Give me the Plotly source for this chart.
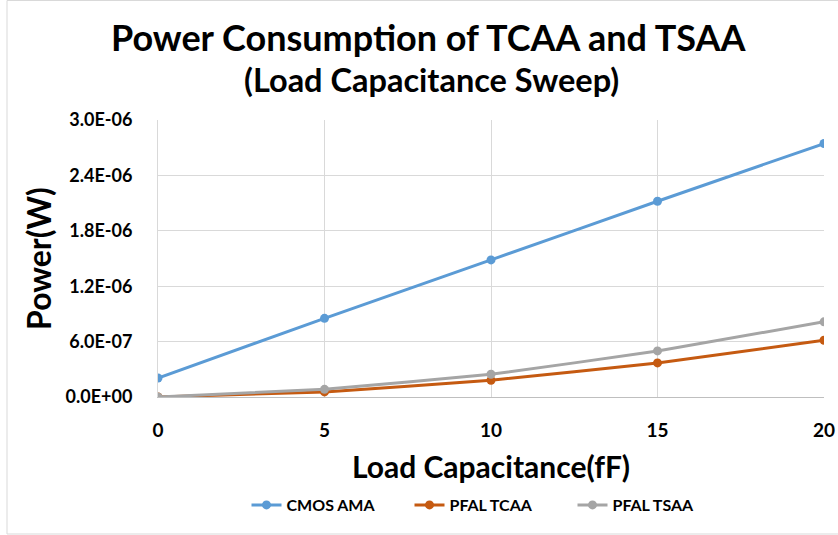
import plotly.graph_objects as go

load_cap = [0, 5, 10, 15, 20]
cmos_ama = [0.206e-6, 0.852e-6, 1.485e-6, 2.12e-6, 2.745e-6]
pfal_tcaa = [0.0, 0.055e-6, 0.182e-6, 0.369e-6, 0.615e-6]
pfal_tsaa = [0.0, 0.083e-6, 0.246e-6, 0.499e-6, 0.814e-6]

y_tickvals = [0, 0.6e-6, 1.2e-6, 1.8e-6, 2.4e-6, 3.0e-6]
y_ticktext = ["0.0E+00", "6.0E-07", "1.2E-06", "1.8E-06", "2.4E-06", "3.0E-06"]
x_tickvals = [0, 5, 10, 15, 20]

title_line1 = "Power Consumption of TCAA and TSAA"
title_line2 = "(Load Capacitance Sweep)"

FONT = "Lato"
W, H = 838, 535
L, R, T, B = 158, 14, 120, 138
PW, PH = W - L - R, H - T - B

fig = go.Figure()
series = [
    ("CMOS AMA", cmos_ama, "#5B9BD5"),
    ("PFAL TCAA", pfal_tcaa, "#C55A11"),
    ("PFAL TSAA", pfal_tsaa, "#A5A5A5"),
]
for name, ys, col in series:
    fig.add_trace(go.Scatter(
        x=load_cap, y=ys, name=name, mode="lines+markers",
        line=dict(color=col, width=3, shape="spline", smoothing=0.3),
        marker=dict(color=col, size=9),
    ))

def px_x(px):
    return (px - L) / PW

def px_y(py):
    return (H - B - py) / PH

fig.update_layout(
    width=W, height=H,
    margin=dict(l=L, r=R, t=T, b=B),
    paper_bgcolor="white", plot_bgcolor="white",
    font=dict(family=FONT, color="black"),
    xaxis=dict(
        range=[0, 20], tickvals=x_tickvals,
        showgrid=True, gridcolor="#D9D9D9", gridwidth=1,
        showline=True, linecolor="#BFBFBF", linewidth=1,
        zeroline=False, ticks="", ticklabelstandoff=16,
        tickfont=dict(size=19, family=FONT, color="black", weight="bold"),
        title=dict(text="<b>Load Capacitance(fF)</b>", font=dict(size=30, family=FONT), standoff=17),
        automargin=False,
    ),
    yaxis=dict(
        range=[0, 3.0e-6], tickvals=y_tickvals, ticktext=y_ticktext,
        showgrid=True, gridcolor="#D9D9D9", gridwidth=1,
        showline=True, linecolor="#D9D9D9", linewidth=1,
        zeroline=False, ticks="", ticklabelstandoff=21,
        tickfont=dict(size=18, family=FONT, color="black", weight="bold"),
        title=dict(text="<b>Power(W)</b>", font=dict(size=32, family=FONT), standoff=4),
        automargin=False,
    ),
    showlegend=True,
    legend=dict(
        orientation="h", x=0.5, xanchor="center",
        y=px_y(505), yanchor="middle",
        font=dict(size=16, family=FONT, weight="bold"),
        entrywidth=118, tracegroupgap=0,
    ),
    annotations=[
        dict(text="<b>" + title_line1 + "</b>", xref="paper", yref="paper",
             x=px_x(428), y=px_y(37), xanchor="center", yanchor="middle",
             showarrow=False, font=dict(size=36, family=FONT, color="black")),
        dict(text="<b>" + title_line2 + "</b>", xref="paper", yref="paper",
             x=px_x(431), y=px_y(80), xanchor="center", yanchor="middle",
             showarrow=False, font=dict(size=32.5, family=FONT, color="black")),
    ],
    shapes=[dict(type="rect", xref="paper", yref="paper",
                 x0=px_x(7), x1=px_x(860), y0=px_y(534), y1=px_y(0.5),
                 line=dict(color="#D9D9D9", width=1), fillcolor="rgba(0,0,0,0)")],
)

fig.write_html("out.html", config={"displayModeBar": False},
               post_script="document.body.style.margin='0';")
